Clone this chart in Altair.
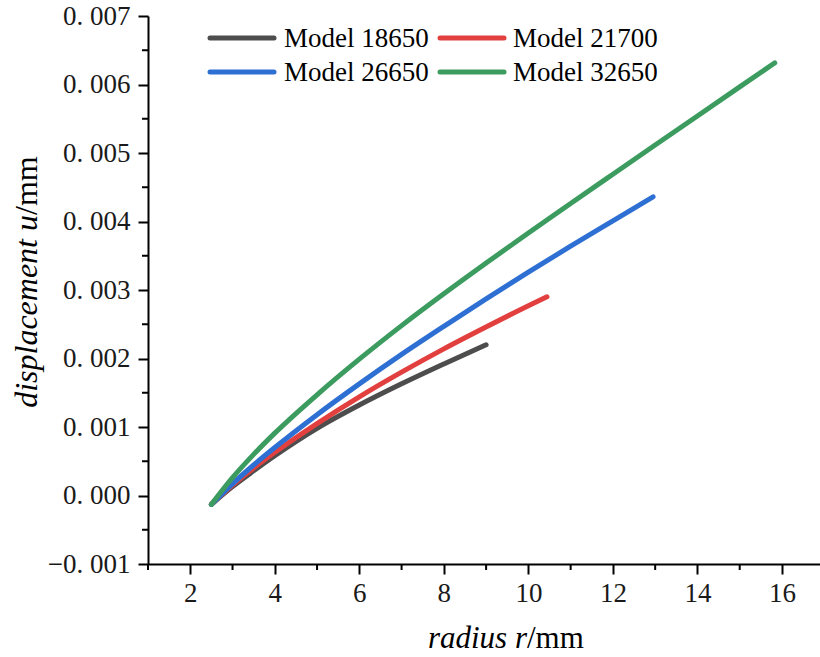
import altair as alt
import pandas as pd

models = ["Model 18650", "Model 21700", "Model 26650", "Model 32650"]
colors = ["#4d4d4d", "#e2403f", "#2e6fd3", "#3c9b5f"]

r_18650 = [2.5, 3.0, 3.5, 4.0, 5.0, 6.0, 7.0, 8.0, 9.0]
u_18650 = [-0.00013, 0.00013, 0.00036, 0.00058, 0.00098, 0.00132, 0.00163, 0.00192, 0.00220]

r_21700 = [2.5, 3.0, 3.5, 4.0, 5.0, 6.0, 7.0, 8.0, 9.0, 10.0, 10.44]
u_21700 = [-0.00013, 0.00015, 0.00040, 0.00063, 0.00105, 0.00144, 0.00180, 0.00214, 0.00246, 0.00277, 0.00290]

r_26650 = [2.5, 3.0, 3.5, 4.0, 5.0, 6.0, 7.0, 8.0, 9.0, 10.0, 11.0, 12.0, 12.95]
u_26650 = [-0.00013, 0.00017, 0.000445, 0.00070, 0.00118, 0.00163, 0.00206, 0.00247, 0.00287, 0.00326, 0.00364, 0.00401, 0.00436]

r_32650 = [2.5, 3.0, 3.5, 4.0, 5.0, 6.0, 7.0, 8.0, 9.0, 10.0, 11.0, 12.0, 13.0, 14.0, 15.0, 15.83]
u_32650 = [-0.00013, 0.00026, 0.00060, 0.00091, 0.00147, 0.00199, 0.00248, 0.002945, 0.003393, 0.003833, 0.004263, 0.00469, 0.005116, 0.005541, 0.005965, 0.006316]

x_ticks = [2, 4, 6, 8, 10, 12, 14, 16]
x_minor = [1, 3, 5, 7, 9, 11, 13, 15]
y_ticks = [-0.001, 0.0, 0.001, 0.002, 0.003, 0.004, 0.005, 0.006, 0.007]
y_minor = [-0.0005, 0.0005, 0.0015, 0.0025, 0.0035, 0.0045, 0.0055, 0.0065]

series = [(models[0], r_18650, u_18650), (models[1], r_21700, u_21700),
          (models[2], r_26650, u_26650), (models[3], r_32650, u_32650)]
rows = []
for k, (m, rs, us) in enumerate(series):
    for i, (r, u) in enumerate(zip(rs, us)):
        rows.append({"model": m, "r": r, "u": u, "k": k, "i": i})
df = pd.DataFrame(rows)

FONT = "Liberation Serif"
W, H = 672, 548

xscale = alt.Scale(domain=[1, 16.9], nice=False, zero=False)
yscale = alt.Scale(domain=[-0.001, 0.007], nice=False, zero=False)
cscale = alt.Scale(domain=models, range=colors)

lines = alt.Chart(df).mark_line(strokeWidth=5, strokeCap="round", strokeJoin="round", interpolate="monotone").encode(
    x=alt.X("r:Q", scale=xscale, axis=alt.Axis(
        values=x_ticks, title=None, grid=False, tickSize=10, tickWidth=2, domainWidth=2,
        domainColor="black", tickColor="black", labelFont=FONT, labelFontSize=27,
        labelColor="#1a1a1a", labelPadding=6, format="d")),
    y=alt.Y("u:Q", scale=yscale, axis=alt.Axis(
        values=y_ticks, title=None, grid=False, tickSize=10, tickWidth=2, domainWidth=2,
        domainColor="black", tickColor="black", labelFont=FONT, labelFontSize=27,
        labelColor="#1a1a1a", labelPadding=8,
        labelExpr="replace(format(datum.value, '.3f'), '.', '. ')")),
    color=alt.Color("model:N", scale=cscale, legend=None),
    detail="k:N",
    order="i:Q",
)

xminor = alt.Chart(pd.DataFrame({"v": x_minor})).mark_rule(color="black", strokeWidth=2).encode(
    x=alt.X("v:Q", scale=xscale), y=alt.value(H), y2=alt.value(H + 6))
yminor = alt.Chart(pd.DataFrame({"v": y_minor})).mark_rule(color="black", strokeWidth=2).encode(
    y=alt.Y("v:Q", scale=yscale), x=alt.value(-6), x2=alt.value(0))

layers = [xminor, yminor, lines]

# legend drawn manually (2 columns)
sym_x = [62, 292]
txt_x = [136, 365]
row_y = [22, 56]
for idx, m in enumerate(models):
    c, rr = idx % 2, idx // 2
    layers.append(alt.Chart(pd.DataFrame({"a": [0]})).mark_rule(
        color=colors[idx], strokeWidth=5, strokeCap="round").encode(
        x=alt.value(sym_x[c]), x2=alt.value(sym_x[c] + 64), y=alt.value(row_y[rr])))
    layers.append(alt.Chart(pd.DataFrame({"a": [0]})).mark_text(
        text=m, font=FONT, fontSize=27, color="black", align="left", baseline="middle").encode(
        x=alt.value(txt_x[c]), y=alt.value(row_y[rr] + 1)))

# axis titles (italic variable + upright unit)
one = pd.DataFrame({"a": [0]})
layers.append(alt.Chart(one).mark_text(text="radius r", font=FONT, fontSize=31, fontStyle="italic",
                                       align="right", baseline="alphabetic", color="black").encode(
    x=alt.value(379), y=alt.value(632)))
layers.append(alt.Chart(one).mark_text(text="/mm", font=FONT, fontSize=31,
                                       align="left", baseline="alphabetic", color="black").encode(
    x=alt.value(379), y=alt.value(632)))
layers.append(alt.Chart(one).mark_text(text="displacement u", font=FONT, fontSize=32, fontStyle="italic",
                                       angle=270, align="right", baseline="middle", color="black").encode(
    x=alt.value(-121), y=alt.value(199)))
layers.append(alt.Chart(one).mark_text(text="/mm", font=FONT, fontSize=32,
                                       angle=270, align="left", baseline="middle", color="black").encode(
    x=alt.value(-121), y=alt.value(199)))

chart = alt.layer(*layers).properties(
    width=W, height=H,
    autosize=alt.AutoSizeParams(type="none"),
    padding={"left": 148, "top": 16, "right": 0, "bottom": 93},
    background="white",
).configure(font=FONT).configure_view(stroke=None)

chart.save("out.html", embed_options={"renderer": "svg", "actions": False})
